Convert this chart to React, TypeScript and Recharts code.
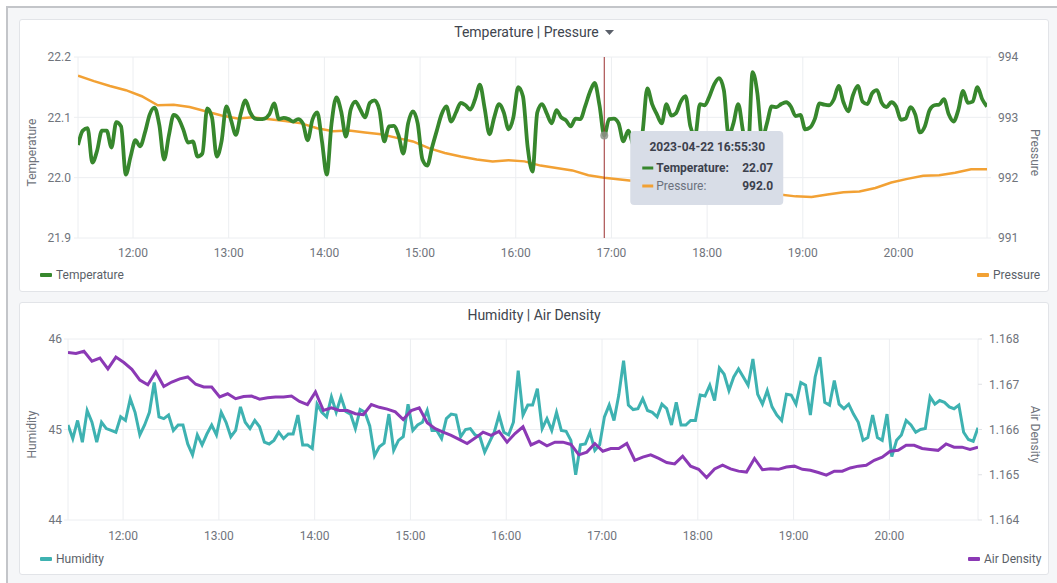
import React from 'react';
import {
  LineChart,
  Line,
  XAxis,
  YAxis,
  CartesianGrid,
  ReferenceLine,
  ReferenceDot
} from 'recharts';

// time axis, minutes after midnight (11:25:30 .. 20:55:30)
const START_MIN = 685.5;
const TIME_DOMAIN = [685.5, 1255.5];
const HOUR_TICKS = [720, 780, 840, 900, 960, 1020, 1080, 1140, 1200];

const TEMP_STEP = 3;
const temperature = [
  22.054, 22.078, 22.082, 22.025, 22.045, 22.078, 22.078, 22.05, 22.092, 22.085,
  22.005, 22.035, 22.062, 22.052, 22.075, 22.105, 22.116, 22.087, 22.03, 22.07,
  22.104, 22.098, 22.08, 22.058, 22.06, 22.035, 22.04, 22.115, 22.1, 22.035,
  22.06, 22.118, 22.095, 22.071, 22.105, 22.128, 22.108, 22.098, 22.097, 22.098,
  22.105, 22.123, 22.097, 22.099, 22.097, 22.093, 22.097, 22.09, 22.062, 22.096,
  22.108, 22.06, 22.005, 22.09, 22.133, 22.11, 22.068, 22.113, 22.126, 22.113,
  22.1, 22.124, 22.128, 22.112, 22.06, 22.085, 22.086, 22.07, 22.04, 22.09,
  22.11, 22.09, 22.03, 22.02, 22.05, 22.078, 22.105, 22.118, 22.093, 22.108,
  22.124, 22.12, 22.113, 22.13, 22.154, 22.115, 22.072, 22.1, 22.122, 22.108,
  22.08, 22.1, 22.15, 22.135, 22.05, 22.01, 22.108, 22.122, 22.106, 22.09,
  22.112, 22.1, 22.095, 22.085, 22.098, 22.097, 22.118, 22.142, 22.157, 22.12,
  22.07, 22.097, 22.098, 22.09, 22.06, 22.078, 22.055, 22.04, 22.075, 22.148,
  22.122, 22.105, 22.09, 22.122, 22.103, 22.107, 22.126, 22.135, 22.085, 22.07,
  22.122, 22.12, 22.135, 22.155, 22.165, 22.145, 22.07, 22.09, 22.122, 22.077,
  22.04, 22.175, 22.14, 22.065, 22.09, 22.118, 22.117, 22.122, 22.125, 22.118,
  22.102, 22.104, 22.08, 22.083, 22.097, 22.123, 22.121, 22.12, 22.13, 22.152,
  22.125, 22.11, 22.137, 22.152, 22.126, 22.122, 22.14, 22.145, 22.124, 22.117,
  22.125, 22.118, 22.096, 22.098, 22.117, 22.105, 22.075, 22.085, 22.112, 22.12,
  22.121, 22.13, 22.105, 22.093, 22.112, 22.144, 22.124, 22.126, 22.15, 22.13,
  22.118
];

const PRESSURE_STEP = 10;
const pressure = [
  993.69, 993.6, 993.52, 993.45, 993.35, 993.2, 993.21, 993.17, 993.1, 993.03,
  992.98, 993.0, 992.97, 992.94, 992.9, 992.82, 992.77, 992.78, 992.75, 992.72,
  992.66, 992.6, 992.49, 992.41, 992.35, 992.3, 992.27, 992.29, 992.27, 992.2,
  992.16, 992.12, 992.04, 992.0, 991.97, 991.94, 991.9, 991.86, 991.83, 991.8,
  991.78, 991.76, 991.74, 991.72, 991.72, 991.69, 991.68, 991.72, 991.76, 991.77,
  991.83, 991.92, 991.98, 992.03, 992.04, 992.08, 992.14, 992.14
];

const HUMIDITY_STEP = 3;
const humidity = [
  45.05, 44.9, 45.1, 44.86, 45.21, 45.08, 44.86, 45.08, 45.01, 44.99,
  44.97, 45.14, 45.1, 45.34, 45.19, 44.94, 45.05, 45.19, 45.52, 45.14,
  45.12, 45.16, 44.99, 45.05, 45.05, 44.84, 44.72, 44.94, 44.83, 44.95,
  45.05, 44.94, 45.19, 45.08, 44.92, 44.99, 45.25, 45.08, 45.01, 45.1,
  45.03, 44.86, 44.84, 44.88, 44.97, 44.9, 44.95, 44.95, 45.16, 44.83,
  44.83, 44.79, 45.28, 45.19, 45.14, 45.36, 45.19, 45.36, 45.2, 45.17,
  45.01, 45.22, 45.19, 45.04, 44.71, 44.81, 44.85, 45.17, 44.77, 44.88,
  44.92, 45.28, 44.99, 45.05, 45.08, 45.21, 44.99, 44.99, 44.9, 45.12,
  45.17, 45.16, 44.92, 45.0, 45.01, 44.94, 44.92, 44.75, 44.86, 44.97,
  45.16, 44.97, 44.94, 45.08, 45.65, 45.16, 45.27, 45.27, 45.45, 45.01,
  45.12, 44.99, 45.19, 44.99, 44.98, 44.88, 44.5, 44.83, 44.84, 44.97,
  44.77, 44.83, 45.14, 45.27, 45.1, 45.38, 45.76, 45.27, 45.22, 45.23,
  45.34, 45.21, 45.19, 45.14, 45.28, 45.23, 45.05, 45.3, 45.05, 45.05,
  45.1, 45.1, 45.38, 45.37, 45.49, 45.32, 45.68, 45.61, 45.43, 45.58,
  45.67, 45.58, 45.49, 45.78, 45.39, 45.28, 45.43, 45.25, 45.16, 45.1,
  45.39, 45.38, 45.28, 45.52, 45.49, 45.16, 45.58, 45.8, 45.3, 45.27,
  45.54, 45.28, 45.23, 45.28, 45.17, 45.08, 44.88, 44.91, 45.16, 44.91,
  44.88, 45.17, 44.7, 44.88, 44.94, 45.1, 45.05, 44.97, 45.0, 45.01,
  45.36, 45.28, 45.32, 45.3, 45.25, 45.23, 45.27, 44.97, 44.89, 44.87,
  45.02
];

const DENSITY_STEP = 5;
const airDensity = [
  1.1677, 1.16768, 1.16773, 1.16751, 1.16758, 1.16734, 1.1676, 1.16748, 1.16733, 1.16709,
  1.16699, 1.16727, 1.16695, 1.16705, 1.16712, 1.16716, 1.167, 1.16694, 1.16694, 1.16672,
  1.16679, 1.16668, 1.16673, 1.16674, 1.16667, 1.1667, 1.16672, 1.16672, 1.16674, 1.16662,
  1.16655, 1.16683, 1.16642, 1.16648, 1.16642, 1.16642, 1.16635, 1.16633, 1.16655, 1.16649,
  1.16645, 1.16639, 1.16622, 1.16642, 1.16648, 1.16615, 1.16602, 1.16594, 1.16587, 1.16578,
  1.16569, 1.16581, 1.16594, 1.16587, 1.16596, 1.16572, 1.16591, 1.16606, 1.16566, 1.16574,
  1.16564, 1.16572, 1.16572, 1.16567, 1.16544, 1.1655, 1.16569, 1.16552, 1.16558, 1.16558,
  1.16569, 1.16532, 1.16539, 1.16544, 1.16536, 1.16527, 1.16524, 1.16541, 1.16519, 1.16512,
  1.16494, 1.16513, 1.16521, 1.16513, 1.16508, 1.16506, 1.16536, 1.16511, 1.16513, 1.16512,
  1.16517, 1.16519, 1.16512, 1.1651, 1.16505, 1.16499, 1.16508, 1.16508, 1.16515, 1.16519,
  1.16521, 1.16532, 1.16539, 1.16552, 1.16554, 1.16565, 1.16565, 1.16558, 1.16556, 1.16554,
  1.16568, 1.16561, 1.16561, 1.16556, 1.16561
];

const tempTicks = [21.9, 22.0, 22.1, 22.2];
const pressureTicks = [991, 992, 993, 994];
const humidityTicks = [44, 45, 46];
const densityTicks = [1.164, 1.165, 1.166, 1.167, 1.168];

// hovered sample shown in the tooltip
const HOVER_INDEX = 110;
const HOVER_DATE = '2023-04-22';

const GREEN = '#37872d';
const ORANGE = '#f2a134';
const TEAL = '#3eb2b1';
const PURPLE = '#8b39b5';
const FONT = 'Roboto, "Open Sans", sans-serif';
const TICK_COLOR = '#70747c';
const GRID = '#eceef1';

const toSeries = (values: number[], step: number) =>
  values.map((v, i) => ({ t: START_MIN + i * step, v }));

const tempData = toSeries(temperature, TEMP_STEP);
const pressureData = toSeries(pressure, PRESSURE_STEP);
const humidityData = toSeries(humidity, HUMIDITY_STEP);
const densityData = toSeries(airDensity, DENSITY_STEP);

const hoverT = START_MIN + HOVER_INDEX * TEMP_STEP;
const hoverPressure = pressure[Math.round((hoverT - START_MIN) / PRESSURE_STEP)];

const pad = (n: number) => String(n).padStart(2, '0');
const hourLabel = (m: number) => `${Math.floor(m / 60)}:${pad(Math.round(m % 60))}`;
const clock = (m: number) => {
  const secs = Math.round(m * 60);
  return `${pad(Math.floor(secs / 3600))}:${pad(Math.floor((secs % 3600) / 60))}:${pad(secs % 60)}`;
};

const tickStyle = { fill: TICK_COLOR, fontSize: 12 };

const sideTitle = (text: string, side: 'left' | 'right') => (props: any) => {
  const vb = props.viewBox;
  if (!vb) return null;
  const cx = side === 'left' ? vb.x + 12 : vb.x + vb.width - 12;
  const cy = vb.y + vb.height / 2 + 5;
  return (
    <text
      x={cx}
      y={cy}
      transform={`rotate(${side === 'left' ? -90 : 90} ${cx} ${cy})`}
      textAnchor="middle"
      dominantBaseline="central"
      fontSize={12}
      fill={TICK_COLOR}
    >
      {text}
    </text>
  );
};

const HoverBox = (props: any) => {
  const vb = props.viewBox;
  if (!vb) return null;
  const x = vb.x + 26;
  const y = vb.y + 74;
  return (
    <g>
      <rect x={x} y={y} width={153} height={74} rx={4} fill="#d8dde7" />
      <text x={x + 77} y={y + 20} textAnchor="middle" fontSize={12} fontWeight={700} fill="#3c414d">
        {`${HOVER_DATE} ${clock(hoverT)}`}
      </text>
      <line x1={x + 12} x2={x + 23} y1={y + 37} y2={y + 37} stroke={GREEN} strokeWidth={3} />
      <text x={x + 26} y={y + 41} fontSize={12} fontWeight={700} fill="#3c414d">Temperature:</text>
      <text x={x + 143} y={y + 41} textAnchor="end" fontSize={12} fontWeight={700} fill="#3c414d">
        {temperature[HOVER_INDEX].toFixed(2)}
      </text>
      <line x1={x + 12} x2={x + 23} y1={y + 55} y2={y + 55} stroke={ORANGE} strokeWidth={3} />
      <text x={x + 26} y={y + 59} fontSize={12} fill="#6c717d">Pressure:</text>
      <text x={x + 143} y={y + 59} textAnchor="end" fontSize={12} fontWeight={700} fill="#3c414d">
        {hoverPressure.toFixed(1)}
      </text>
    </g>
  );
};

const Caret = () => (
  <svg width="9" height="6" style={{ marginLeft: 6, verticalAlign: 'middle' }}>
    <path d="M0 0 L9 0 L4.5 5 Z" fill="#5b606a" />
  </svg>
);

const LegendItem = ({ color, text, left, top }: { color: string; text: string; left: number; top: number }) => (
  <div style={{ position: 'absolute', left, top, display: 'flex', alignItems: 'center', fontSize: 12, color: '#5a5f68' }}>
    <span style={{ display: 'inline-block', width: 12, height: 4, background: color, borderRadius: 1, marginRight: 4 }} />
    {text}
  </div>
);

const panelStyle: React.CSSProperties = {
  position: 'absolute',
  left: 19,
  width: 1028,
  height: 271,
  background: '#ffffff',
  border: '1px solid #e2e4e8',
  borderRadius: 3
};

const titleStyle: React.CSSProperties = {
  position: 'absolute',
  left: 19,
  width: 1030,
  textAlign: 'center',
  fontSize: 14,
  fontWeight: 400,
  color: '#40454e'
};

export default function App() {
  return (
    <div style={{ position: 'absolute', left: 0, top: 0, width: 1057, height: 583, fontFamily: FONT, overflow: 'hidden', background: '#ffffff' }}>
      <div style={{ position: 'absolute', left: 6, top: 6, right: 0, bottom: 0, background: '#f5f6f8', borderTop: '2px solid #c3c5c9', borderLeft: '2px solid #c3c5c9' }} />

      {/* Temperature | Pressure */}
      <div style={{ ...panelStyle, top: 19 }} />
      <div style={{ ...titleStyle, top: 24 }}>
        Temperature | Pressure<Caret />
      </div>
      <div style={{ position: 'absolute', left: 0, top: 0 }}>
        <LineChart width={1057} height={290} margin={{ top: 57, right: 10, bottom: 22, left: 20 }}>
          <CartesianGrid stroke={GRID} yAxisId="left" />
          <XAxis
            dataKey="t"
            type="number"
            domain={TIME_DOMAIN}
            ticks={HOUR_TICKS}
            tickFormatter={hourLabel}
            axisLine={false}
            tickLine={false}
            tickSize={0}
            tickMargin={10}
            height={30}
            tick={tickStyle}
            allowDataOverflow
          />
          <YAxis
            yAxisId="left"
            width={58}
            domain={[21.9, 22.2]}
            ticks={tempTicks}
            tickFormatter={(v: number) => v.toFixed(1)}
            axisLine={false}
            tickLine={{ stroke: GRID }}
            tickSize={4}
            tickMargin={3}
            tick={tickStyle}
            allowDataOverflow
            label={sideTitle('Temperature', 'left')}
          />
          <YAxis
            yAxisId="right"
            orientation="right"
            width={60}
            domain={[991, 994]}
            ticks={pressureTicks}
            axisLine={false}
            tickLine={{ stroke: GRID }}
            tickSize={4}
            tickMargin={7}
            tick={tickStyle}
            allowDataOverflow
            label={sideTitle('Pressure', 'right')}
          />
          <Line
            yAxisId="right"
            data={pressureData}
            dataKey="v"
            name="Pressure"
            type="linear"
            stroke={ORANGE}
            strokeWidth={2.5}
            dot={false}
            activeDot={false}
            isAnimationActive={false}
          />
          <Line
            yAxisId="left"
            data={tempData}
            dataKey="v"
            name="Temperature"
            type="monotone"
            stroke={GREEN}
            strokeWidth={3.8}
            strokeLinejoin="round"
            dot={false}
            activeDot={false}
            isAnimationActive={false}
          />
          <ReferenceDot
            yAxisId="left"
            x={hoverT}
            y={temperature[HOVER_INDEX]}
            r={4}
            fill="#8c948a"
            fillOpacity={0.85}
            stroke="none"
          />
          <ReferenceLine yAxisId="left" x={hoverT} stroke="#9a2f2f" strokeWidth={1} label={HoverBox} />
        </LineChart>
      </div>
      <LegendItem color={GREEN} text="Temperature" left={40} top={268} />
      <LegendItem color={ORANGE} text="Pressure" left={977} top={268} />

      {/* Humidity | Air Density */}
      <div style={{ ...panelStyle, top: 302 }} />
      <div style={{ ...titleStyle, top: 307 }}>Humidity | Air Density</div>
      <div style={{ position: 'absolute', left: 0, top: 290 }}>
        <LineChart width={1057} height={290} margin={{ top: 49, right: 10, bottom: 30, left: 20 }}>
          <CartesianGrid stroke={GRID} yAxisId="left" />
          <XAxis
            dataKey="t"
            type="number"
            domain={TIME_DOMAIN}
            ticks={HOUR_TICKS}
            tickFormatter={hourLabel}
            axisLine={false}
            tickLine={false}
            tickSize={0}
            tickMargin={11}
            height={30}
            tick={tickStyle}
            allowDataOverflow
          />
          <YAxis
            yAxisId="left"
            width={48}
            domain={[44, 46]}
            ticks={humidityTicks}
            axisLine={false}
            tickLine={{ stroke: GRID }}
            tickSize={4}
            tickMargin={2}
            tick={tickStyle}
            allowDataOverflow
            label={sideTitle('Humidity', 'left')}
          />
          <YAxis
            yAxisId="right"
            orientation="right"
            width={69}
            domain={[1.164, 1.168]}
            ticks={densityTicks}
            tickFormatter={(v: number) => v.toFixed(3)}
            axisLine={false}
            tickLine={{ stroke: '#dfe1e5' }}
            tickSize={4}
            tickMargin={7}
            tick={tickStyle}
            allowDataOverflow
            label={sideTitle('Air Density', 'right')}
          />
          <Line
            yAxisId="left"
            data={humidityData}
            dataKey="v"
            name="Humidity"
            type="linear"
            stroke={TEAL}
            strokeWidth={3}
            dot={false}
            activeDot={false}
            isAnimationActive={false}
          />
          <Line
            yAxisId="right"
            data={densityData}
            dataKey="v"
            name="Air Density"
            type="linear"
            stroke={PURPLE}
            strokeWidth={3}
            dot={false}
            activeDot={false}
            isAnimationActive={false}
          />
        </LineChart>
      </div>
      <LegendItem color={TEAL} text="Humidity" left={40} top={552} />
      <LegendItem color={PURPLE} text="Air Density" left={968} top={552} />
    </div>
  );
}
